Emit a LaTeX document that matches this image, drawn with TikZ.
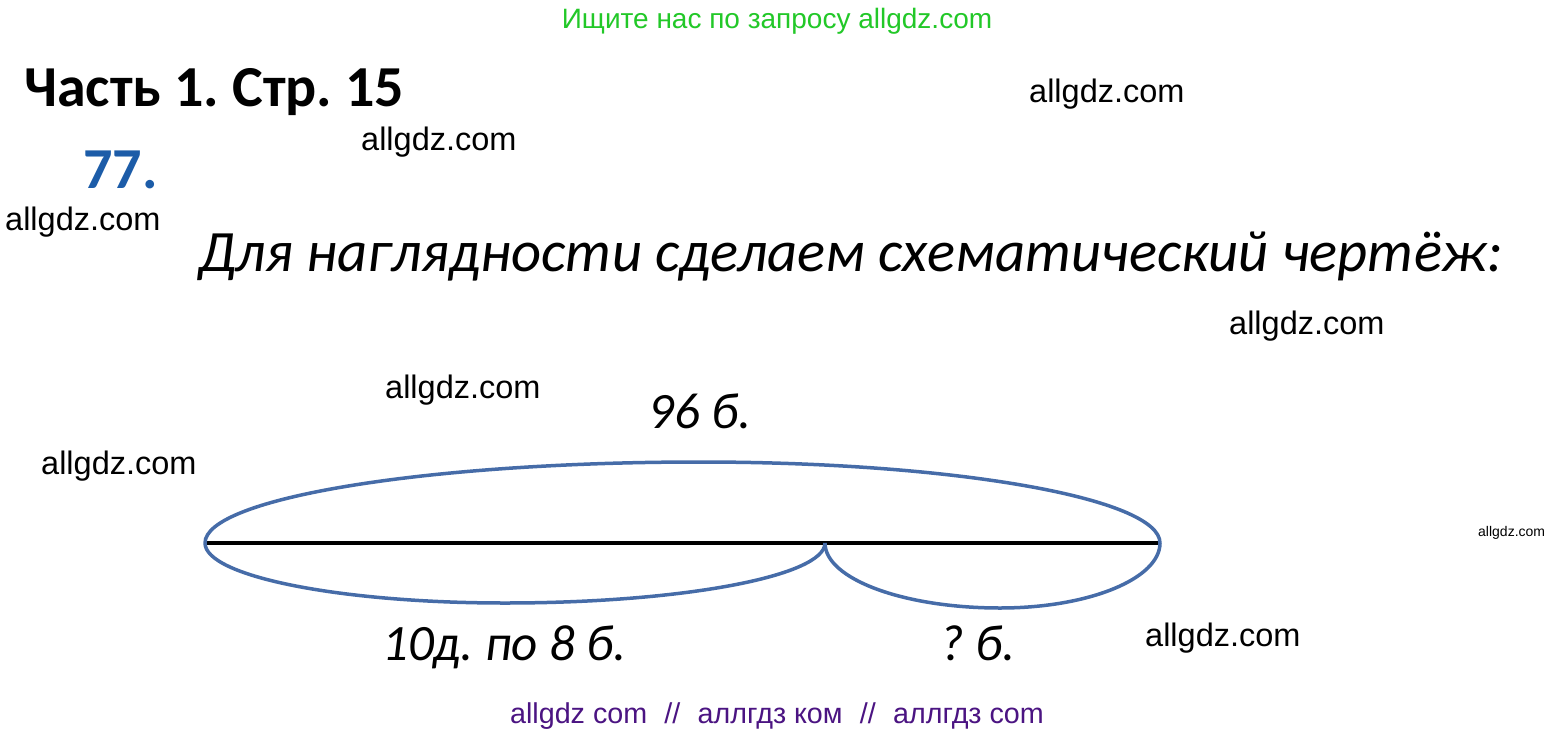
\documentclass[tikz,border=0pt]{standalone}
\usepackage{fontspec}
\setmainfont{Liberation Sans}
\newfontfamily\calib{Carlito}
\definecolor{arcblue}{RGB}{70,108,168}
\definecolor{numblue}{RGB}{28,92,168}
\definecolor{wmgreen}{RGB}{34,200,40}
\definecolor{wmpurple}{RGB}{75,20,130}
\tikzset{
  wm/.style={anchor=base west, inner sep=0pt, font=\fontsize{32.5}{32.5}\selectfont, text=black},
  hand/.style={anchor=base west, inner sep=0pt, font=\calib\itshape\fontsize{51}{51}\selectfont},
  arcline/.style={draw=arcblue, line width=3.5pt},
  seg/.style={draw=black, line width=4pt}
}
\frenchspacing
\begin{document}
\begin{tikzpicture}[x=1pt,y=-1pt]
\useasboundingbox[fill=white] (0,0) rectangle (1556,734);
% header and watermarks
\node[anchor=base, inner sep=0pt, font=\fontsize{28}{28}\selectfont, text=wmgreen] (top) at (777,28) {Ищите нас по запросу allgdz.com};
\node[anchor=base west, inner sep=0pt, font=\calib\bfseries\fontsize{58}{58}\selectfont] (title) at (24,106) {Часть 1. Стр. 15};
\node[anchor=base west, inner sep=0pt, font=\calib\bfseries\fontsize{58}{58}\selectfont, text=numblue] (num) at (83,188) {77.};
\node[wm] (w1) at (1029,102) {allgdz.com};
\node[wm] (w2) at (361,150) {allgdz.com};
\node[wm] (w3) at (5,230) {allgdz.com};
\node[wm] (w4) at (1229,334) {allgdz.com};
\node[wm] (w5) at (385,398) {allgdz.com};
\node[wm] (w6) at (41,474) {allgdz.com};
\node[wm] (w7) at (1145,646) {allgdz.com};
\node[anchor=base west, inner sep=0pt, font=\fontsize{14}{14}\selectfont] (w8) at (1478,536) {allgdz.com};
\node[anchor=base, inner sep=0pt, font=\fontsize{28.7}{28.7}\selectfont, text=wmpurple] (bot) at (777,723) {allgdz com\hspace{0.6em}//\hspace{0.6em}аллгдз ком\hspace{0.6em}//\hspace{0.6em}аллгдз com};
% handwriting
\node[hand, font=\calib\itshape\fontsize{58.6}{58.6}\selectfont] (head) at (198,271) {Для наглядности сделаем схематический чертёж:};
\node[hand] (total) at (648,428) {96 б.};
\node[hand] (part1) at (382,660) {10д. по 8 б.};
\node[hand] (part2) at (940,660) {? б.};
% diagram
\coordinate (A) at (205,543);
\coordinate (M) at (825,543);
\coordinate (B) at (1160,543);
\draw[seg] (A) -- (B);
\draw[arcline] (A) arc[start angle=180, end angle=270, x radius=495, y radius=81]
                   arc[start angle=270, end angle=360, x radius=460, y radius=81];
\draw[arcline] (A) arc[start angle=180, end angle=90, x radius=300, y radius=60]
                   arc[start angle=90, end angle=0, x radius=320, y radius=60];
\draw[arcline] (M) arc[start angle=180, end angle=90, x radius=175, y radius=65]
                   arc[start angle=90, end angle=0, x radius=160, y radius=65];
\end{tikzpicture}
\end{document}
